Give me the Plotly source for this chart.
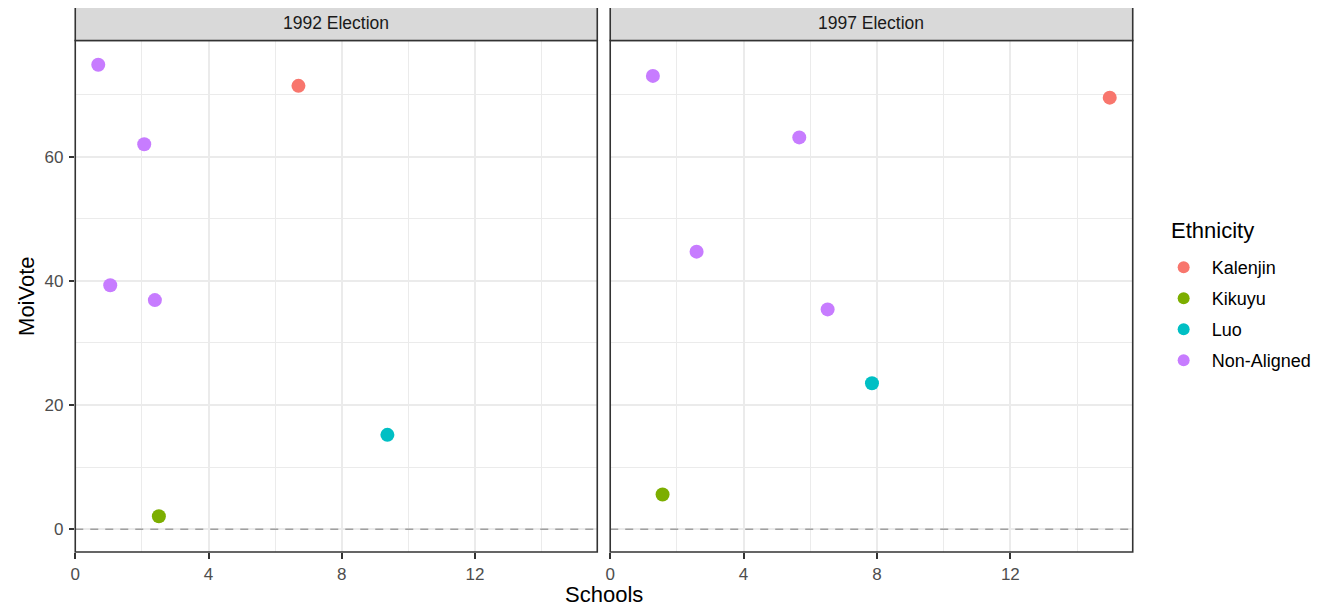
import plotly.graph_objects as go

# ---- data ----
ethnicities = ["Kalenjin", "Kikuyu", "Luo", "Non-Aligned"]
colors = ["#F8766D", "#7CAE00", "#00BFC4", "#C77CFF"]
panels = ["1992 Election", "1997 Election"]

schools_1992 = [0.69, 6.70, 2.07, 1.05, 2.39, 9.37, 2.51]
moivote_1992 = [74.8, 71.4, 62.0, 39.3, 36.9, 15.2, 2.1]
ethnicity_1992 = ["Non-Aligned", "Kalenjin", "Non-Aligned", "Non-Aligned", "Non-Aligned", "Luo", "Kikuyu"]

schools_1997 = [1.28, 14.98, 5.67, 2.59, 6.52, 7.85, 1.57]
moivote_1997 = [73.0, 69.5, 63.1, 44.7, 35.4, 23.5, 5.6]
ethnicity_1997 = ["Non-Aligned", "Kalenjin", "Non-Aligned", "Non-Aligned", "Non-Aligned", "Luo", "Kikuyu"]

x_ticks = [0, 4, 8, 12]
x_minor = [2, 6, 10, 14]
y_ticks = [0, 20, 40, 60]
y_minor = [10, 30, 50, 70]

# page offset (default body margin) and figure size
OX, OY = 8, 8
FW, FH = 1316, 604

def fx(px):
    return (px - OX) / FW

def fy(py):
    return 1 - (py - OY) / FH

FONT = "Liberation Sans"
fig = go.Figure()

data = [(schools_1992, moivote_1992, ethnicity_1992), (schools_1997, moivote_1997, ethnicity_1997)]
for p, (xs, ys, es) in enumerate(data):
    xa = "x" if p == 0 else "x2"
    ya = "y" if p == 0 else "y2"
    for eth, col in zip(ethnicities, colors):
        px_ = [x for x, e in zip(xs, es) if e == eth]
        py_ = [y for y, e in zip(ys, es) if e == eth]
        fig.add_trace(go.Scatter(
            x=px_, y=py_, mode="markers", name=eth, legendgroup=eth,
            showlegend=(p == 0), xaxis=xa, yaxis=ya,
            marker=dict(color=col, size=14, line=dict(width=0)),
        ))

# panel geometry in screen pixels
px_left = [70.5, 607.5]
px_right = [594.5, 1132.0]
top_px, bottom_px = 40.5, 552.0
strip_top_px = 5.7

grid = "#EBEBEB"
tickfont = dict(family=FONT, size=17, color="#4D4D4D")

xr = [0, 15.67]
yr = [-3.66, 78.7]

def xaxis(p):
    return dict(domain=[fx(px_left[p]), fx(px_right[p])], range=xr, tickvals=x_ticks,
                anchor="y" if p == 0 else "y2",
                showline=False, zeroline=False,
                ticks="outside", ticklen=5.5, tickcolor="#333333", tickwidth=1.6,
                tickfont=tickfont, gridcolor=grid, gridwidth=2, ticklabelstandoff=1,
                minor=dict(tickvals=x_minor, showgrid=True, gridcolor=grid, gridwidth=1, ticks=""))

def yaxis(p):
    d = dict(domain=[fy(bottom_px), fy(top_px)], range=yr, tickvals=y_ticks,
             anchor="x" if p == 0 else "x2",
             showline=False, zeroline=False,
             tickfont=tickfont, gridcolor=grid, gridwidth=2,
             minor=dict(tickvals=y_minor, showgrid=True, gridcolor=grid, gridwidth=1, ticks=""))
    if p == 0:
        d.update(ticks="outside", ticklen=5.5, tickcolor="#333333", tickwidth=1.6, ticklabelstandoff=2)
    else:
        d.update(ticks="", showticklabels=False)
    return d

fig.update_layout(xaxis=xaxis(0), yaxis=yaxis(0), xaxis2=xaxis(1), yaxis2=yaxis(1))

shapes = []
annotations = []
for p in range(2):
    xa = "x" if p == 0 else "x2"
    ya = "y" if p == 0 else "y2"
    shapes.append(dict(type="line", xref=f"{xa} domain", yref=ya, x0=0, x1=1, y0=0, y1=0,
                       line=dict(color="#A0A0A0", width=1.6, dash="8px,7px"), layer="above"))
    shapes.append(dict(type="rect", xref="paper", yref="paper",
                       x0=fx(px_left[p]), x1=fx(px_right[p]), y0=fy(bottom_px), y1=fy(top_px),
                       line=dict(color="#333333", width=1.6), fillcolor="rgba(0,0,0,0)", layer="above"))
    shapes.append(dict(type="rect", xref="paper", yref="paper",
                       x0=fx(px_left[p]), x1=fx(px_right[p]), y0=fy(top_px), y1=fy(strip_top_px),
                       line=dict(color="#333333", width=1.6), fillcolor="#D9D9D9", layer="above"))
    annotations.append(dict(text=panels[p], xref="paper", yref="paper",
                            x=fx((px_left[p] + px_right[p]) / 2), y=fy((top_px + strip_top_px) / 2),
                            xanchor="center", yanchor="middle", showarrow=False,
                            font=dict(family=FONT, size=17.5, color="#1A1A1A")))

annotations.append(dict(text="Schools", xref="paper", yref="paper", x=fx(601), y=fy(594),
                        xanchor="center", yanchor="middle", showarrow=False,
                        font=dict(family=FONT, size=22, color="#000000")))
annotations.append(dict(text="MoiVote", xref="paper", yref="paper", x=fx(21), y=fy(296),
                        xanchor="center", yanchor="middle", showarrow=False, textangle=-90,
                        font=dict(family=FONT, size=22, color="#000000")))
annotations.append(dict(text="Ethnicity", xref="paper", yref="paper", x=fx(1168), y=fy(231),
                        xanchor="left", yanchor="middle", showarrow=False,
                        font=dict(family=FONT, size=22, color="#000000")))

fig.update_layout(
    shapes=shapes, annotations=annotations,
    width=FW, height=FH,
    margin=dict(l=0, r=0, t=0, b=0),
    paper_bgcolor="white", plot_bgcolor="white",
    showlegend=True,
    legend=dict(
        font=dict(family=FONT, size=18, color="#000000"),
        x=fx(1155), xanchor="left", y=fy(249), yanchor="top",
        bgcolor="rgba(0,0,0,0)", tracegroupgap=4.6, itemsizing="constant", itemwidth=46,
        borderwidth=0,
    ),
    font=dict(family=FONT),
)

fig.write_html("out.html")
